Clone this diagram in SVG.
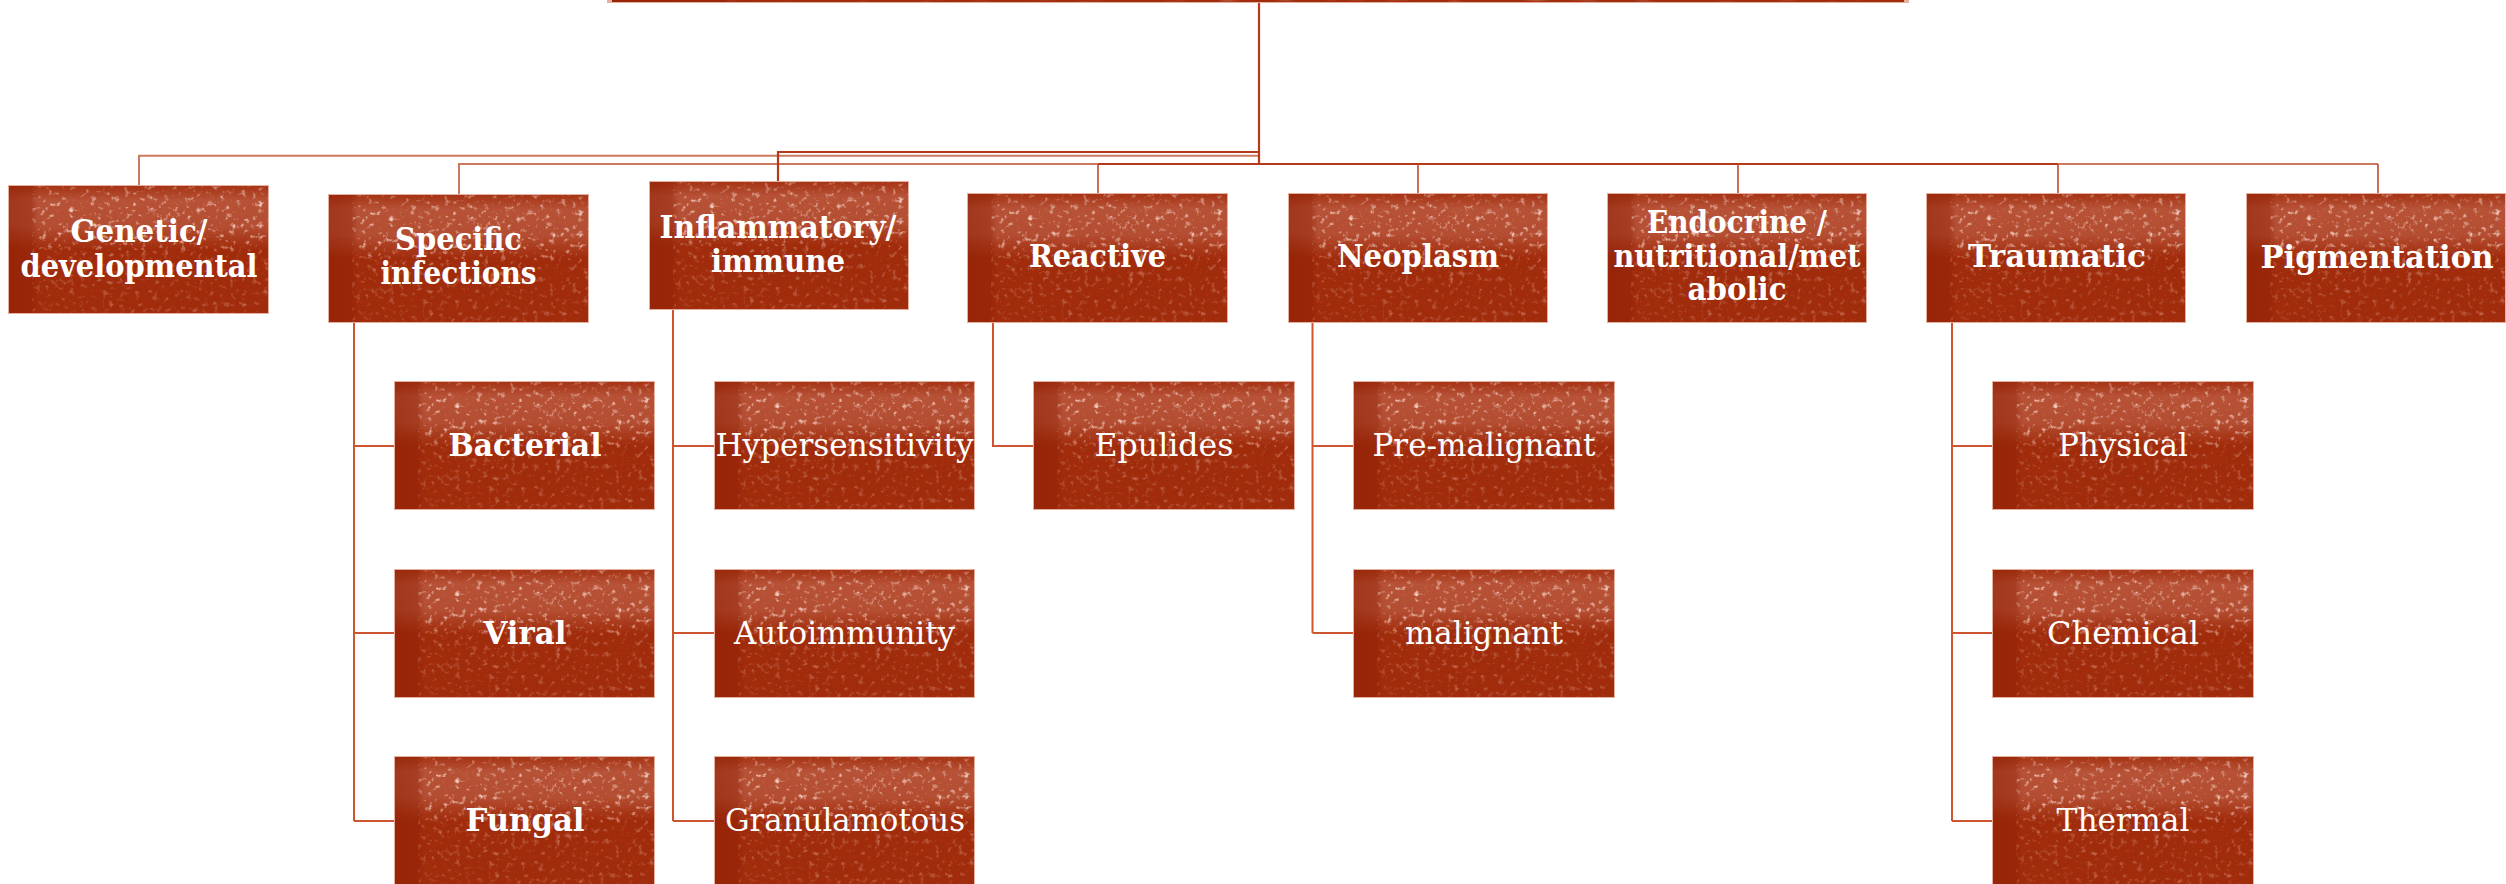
<svg xmlns="http://www.w3.org/2000/svg" xmlns:xlink="http://www.w3.org/1999/xlink" width="2506" height="884" viewBox="0 0 2506 884">
<style>
.l1{font-family:"DejaVu Serif","Liberation Serif",serif;font-weight:bold;font-size:31px;fill:#ffffff;text-anchor:middle}
.l2{font-family:"DejaVu Serif","Liberation Serif",serif;font-size:32px;fill:#ffffff;text-anchor:middle}
.b{font-weight:bold}
.c1{fill:none;stroke:#b8391a;stroke-width:2.2}
.c1l{fill:none;stroke:#cb7a60;stroke-width:2}
.c1d{fill:none;stroke:#c24b2a;stroke-width:1.6}
.c2{fill:none;stroke:#cf5530;stroke-width:2}
</style>
<defs>
<linearGradient id="glow" x1="0" y1="0" x2="0" y2="1">
<stop offset="0" stop-color="#e9a898" stop-opacity="0.05"/>
<stop offset="0.12" stop-color="#eeb4a6" stop-opacity="0.28"/>
<stop offset="0.32" stop-color="#eeb4a6" stop-opacity="0.25"/>
<stop offset="0.5" stop-color="#e8a494" stop-opacity="0"/>
</linearGradient>
<linearGradient id="strip" x1="0" y1="0" x2="1" y2="0">
<stop offset="0" stop-color="#8c1d02" stop-opacity="0.5"/>
<stop offset="0.8" stop-color="#8c1d02" stop-opacity="0.35"/>
<stop offset="1" stop-color="#8c1d02" stop-opacity="0"/>
</linearGradient>
<linearGradient id="speckMask" x1="0" y1="0" x2="0" y2="1">
<stop offset="0" stop-color="#fff" stop-opacity="0.4"/>
<stop offset="0.15" stop-color="#fff" stop-opacity="0.95"/>
<stop offset="0.38" stop-color="#fff" stop-opacity="0.9"/>
<stop offset="0.55" stop-color="#fff" stop-opacity="0.4"/>
<stop offset="1" stop-color="#fff" stop-opacity="0.3"/>
</linearGradient>
<filter id="speck" x="0" y="0" width="100%" height="100%">
<feTurbulence type="fractalNoise" baseFrequency="0.18" numOctaves="3" seed="11" result="n"/>
<feColorMatrix in="n" type="matrix" values="0 0 0 0 0.96  0 0 0 0 0.7  0 0 0 0 0.62  3.2 0 0 0 -1.85" result="s"/>
<feGaussianBlur in="s" stdDeviation="0.5" result="sb"/>
<feComposite in="sb" in2="SourceGraphic" operator="in"/>
</filter>
<symbol id="tile" viewBox="0 0 261 129" preserveAspectRatio="none">
<rect width="261" height="129" fill="#a12c0c"/>
<rect width="261" height="129" fill="url(#glow)"/>
<rect x="24" width="237" height="129" fill="url(#speckMask)" filter="url(#speck)"/>
<rect x="0" y="0" width="30" height="129" fill="url(#strip)"/>
<rect x="0.5" y="0.5" width="260" height="128" fill="none" stroke="#e6b0a0" stroke-width="1"/>
</symbol>
</defs>
<rect width="2506" height="884" fill="#ffffff"/>

<g id="connectors">
<path class="c1l" d="M1259 155.7 H139 V185"/>
<path class="c1l" d="M1259 164 H459 V194"/>
<path class="c1" d="M1259 152 H778 V181"/>
<path class="c1" d="M1259 3 V164"/>
<path class="c1" d="M1098 164 H2058"/>
<path class="c1l" d="M2058 164 H2378"/>
<path class="c1d" d="M1098 164 V193 M1418 164 V193 M1738 164 V193 M2058 164 V193 M2378 164 V193"/>
<path class="c2" d="M354 323 V821 M354 446 H394 M354 633 H394 M354 821 H394"/>
<path class="c2" d="M673 310 V821 M673 446 H714 M673 633 H714 M673 821 H714"/>
<path class="c2" d="M993 323 V446 H1033"/>
<path class="c2" d="M1312.5 323 V633 M1312.5 446 H1353 M1312.5 633 H1353"/>
<path class="c2" d="M1952 323 V821 M1952 446 H1992 M1952 633 H1992 M1952 821 H1992"/>
</g>

<g id="root">
<use xlink:href="#tile" x="607" y="-126" width="1302" height="129"/>
</g>

<g id="genetic">
<use xlink:href="#tile" x="8" y="185" width="261" height="129"/>
<text class="l1" x="139" y="242" textLength="137" lengthAdjust="spacingAndGlyphs">Genetic/</text>
<text class="l1" x="139" y="277" textLength="237" lengthAdjust="spacingAndGlyphs">developmental</text>
</g>
<g id="specific">
<use xlink:href="#tile" x="328" y="194" width="261" height="129"/>
<text class="l1" x="458.5" y="250" textLength="127" lengthAdjust="spacingAndGlyphs">Specific</text>
<text class="l1" x="458.5" y="284" textLength="156" lengthAdjust="spacingAndGlyphs">infections</text>
</g>
<g id="inflammatory">
<use xlink:href="#tile" x="649" y="181" width="260" height="129"/>
<text class="l1" x="778" y="238" textLength="237" lengthAdjust="spacingAndGlyphs">Inflammatory/</text>
<text class="l1" x="778" y="272" textLength="134" lengthAdjust="spacingAndGlyphs">immune</text>
</g>
<g id="reactive">
<use xlink:href="#tile" x="967" y="193" width="261" height="130"/>
<text class="l1" x="1097.5" y="267" textLength="137" lengthAdjust="spacingAndGlyphs">Reactive</text>
</g>
<g id="neoplasm">
<use xlink:href="#tile" x="1288" y="193" width="260" height="130"/>
<text class="l1" x="1418" y="267" textLength="162" lengthAdjust="spacingAndGlyphs">Neoplasm</text>
</g>
<g id="endocrine">
<use xlink:href="#tile" x="1607" y="193" width="260" height="130"/>
<text class="l1" x="1737" y="233" textLength="180" lengthAdjust="spacingAndGlyphs">Endocrine /</text>
<text class="l1" x="1737" y="267" textLength="247" lengthAdjust="spacingAndGlyphs">nutritional/met</text>
<text class="l1" x="1737" y="300" textLength="99" lengthAdjust="spacingAndGlyphs">abolic</text>
</g>
<g id="traumatic">
<use xlink:href="#tile" x="1926" y="193" width="260" height="130"/>
<text class="l1" x="2057" y="267" textLength="178" lengthAdjust="spacingAndGlyphs">Traumatic</text>
</g>
<g id="pigmentation">
<use xlink:href="#tile" x="2246" y="193" width="260" height="130"/>
<text class="l1" x="2377" y="268" textLength="233" lengthAdjust="spacingAndGlyphs">Pigmentation</text>
</g>

<g id="bacterial">
<use xlink:href="#tile" x="394" y="381" width="261" height="129"/>
<text class="l2 b" x="525" y="456" textLength="153" lengthAdjust="spacingAndGlyphs">Bacterial</text>
</g>
<g id="viral">
<use xlink:href="#tile" x="394" y="569" width="261" height="129"/>
<text class="l2 b" x="525" y="644" textLength="83" lengthAdjust="spacingAndGlyphs">Viral</text>
</g>
<g id="fungal">
<use xlink:href="#tile" x="394" y="756" width="261" height="129"/>
<text class="l2 b" x="525" y="831" textLength="119" lengthAdjust="spacingAndGlyphs">Fungal</text>
</g>
<g id="hypersensitivity">
<use xlink:href="#tile" x="714" y="381" width="261" height="129"/>
<text class="l2" x="844.5" y="456" textLength="258" lengthAdjust="spacingAndGlyphs">Hypersensitivity</text>
</g>
<g id="autoimmunity">
<use xlink:href="#tile" x="714" y="569" width="261" height="129"/>
<text class="l2" x="844.5" y="644" textLength="221" lengthAdjust="spacingAndGlyphs">Autoimmunity</text>
</g>
<g id="granulamotous">
<use xlink:href="#tile" x="714" y="756" width="261" height="129"/>
<text class="l2" x="845" y="831" textLength="240" lengthAdjust="spacingAndGlyphs">Granulamotous</text>
</g>
<g id="epulides">
<use xlink:href="#tile" x="1033" y="381" width="262" height="129"/>
<text class="l2" x="1164" y="456" textLength="139" lengthAdjust="spacingAndGlyphs">Epulides</text>
</g>
<g id="premalignant">
<use xlink:href="#tile" x="1353" y="381" width="262" height="129"/>
<text class="l2" x="1484" y="456" textLength="223" lengthAdjust="spacingAndGlyphs">Pre-malignant</text>
</g>
<g id="malignant">
<use xlink:href="#tile" x="1353" y="569" width="262" height="129"/>
<text class="l2" x="1484" y="644" textLength="158" lengthAdjust="spacingAndGlyphs">malignant</text>
</g>
<g id="physical">
<use xlink:href="#tile" x="1992" y="381" width="262" height="129"/>
<text class="l2" x="2123" y="456" textLength="130" lengthAdjust="spacingAndGlyphs">Physical</text>
</g>
<g id="chemical">
<use xlink:href="#tile" x="1992" y="569" width="262" height="129"/>
<text class="l2" x="2123" y="644" textLength="152" lengthAdjust="spacingAndGlyphs">Chemical</text>
</g>
<g id="thermal">
<use xlink:href="#tile" x="1992" y="756" width="262" height="129"/>
<text class="l2" x="2123" y="831" textLength="133" lengthAdjust="spacingAndGlyphs">Thermal</text>
</g>
</svg>
